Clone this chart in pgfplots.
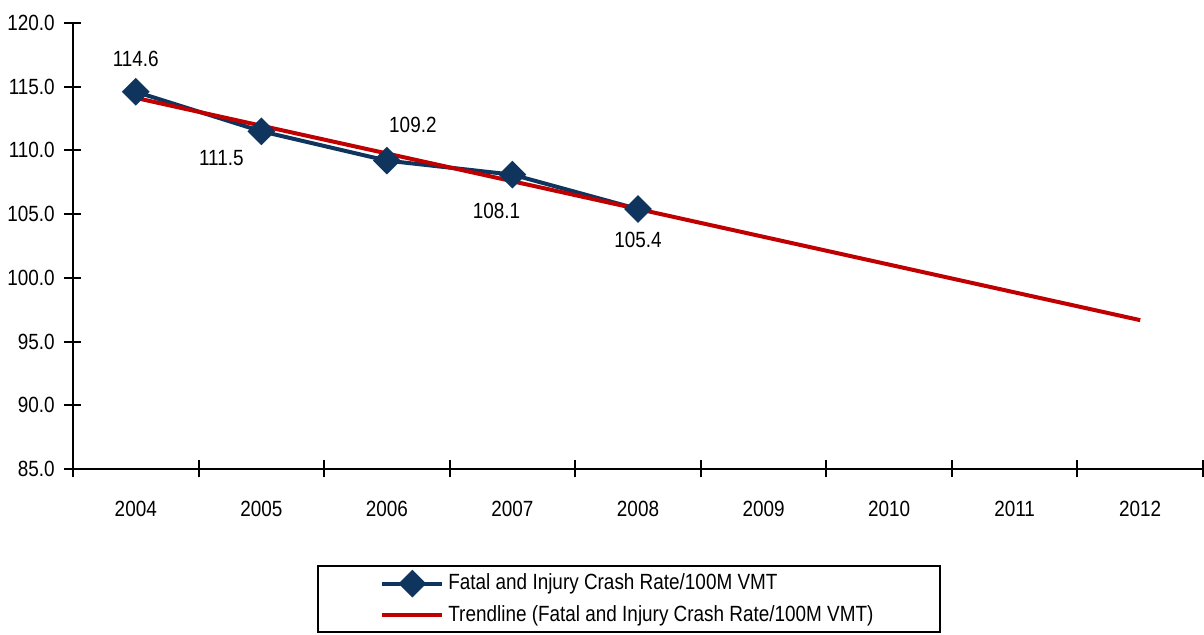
\documentclass[border=0pt]{standalone}
\usepackage{fontspec}
\setmainfont{Liberation Sans}[FakeStretch=0.86]
\usepackage{pgfplots}
\usepackage{pgfplotstable}
\pgfplotsset{compat=1.18}

\definecolor{navy}{HTML}{0F355E}
\definecolor{trendred}{HTML}{C00000}

% crash rate per year, with label offsets (pt)
\pgfplotstableread{
x y dx dy
0 114.6 0 16.5
1 111.5 -20 -13.5
2 109.2 13 18
3 108.1 -8 -18
4 105.4 0 -15.5
}\crashrate

% linear trend, 2004--2012
\pgfplotstableread{
x y
0 114.12
8 96.68
}\trend

\begin{document}
\fontsize{11}{13.2}\selectfont
\begin{tikzpicture}
\begin{axis}[
    scale only axis,
    width=565pt, height=223pt,
    xmin=-0.5, xmax=8.5,
    ymin=85, ymax=120,
    axis lines*=left,
    axis line style={line width=1pt},
    xtick={-0.5,0.5,1.5,2.5,3.5,4.5,5.5,6.5,7.5,8.5},
    x tick label as interval,
    xticklabels={2004,2005,2006,2007,2008,2009,2010,2011,2012},
    xticklabel style={yshift=-8pt},
    ytick={85,90,95,100,105,110,115,120},
    tick align=center,
    major tick length=8.5pt,
    tick style={line width=1pt, black},
    /pgf/number format/assume math mode=true,
    yticklabel style={xshift=-1pt, /pgf/number format/.cd, fixed, fixed zerofill, precision=1},
    legend cell align=left,
    legend style={at={(0.492,0)}, anchor=north, yshift=-48pt,
        draw=black, line width=1pt, inner xsep=31pt, inner ysep=1pt,
        row sep=0pt, nodes={inner ysep=3pt}},
    legend image code/.code={
        \draw[#1, mark repeat=2, mark phase=2]
            plot coordinates {(0pt,0pt) (15pt,0pt) (30pt,0pt)};},
]
\addplot[navy, line width=2pt, mark=square*, mark size=3.9pt,
    mark options={solid, fill=navy, rotate=45},
    visualization depends on={\thisrow{dx} \as \dx},
    visualization depends on={\thisrow{dy} \as \dy},
    nodes near coords={\pgfmathprintnumber[fixed, fixed zerofill, precision=1]{\pgfplotspointmeta}},
    nodes near coords style={text=black, anchor=center, xshift=\dx pt, yshift=\dy pt}]
    table[x=x, y=y] {\crashrate};
\addlegendentry{Fatal and Injury Crash Rate/100M VMT}
\addplot[trendred, line width=2pt] table[x=x, y=y] {\trend};
\addlegendentry{Trendline (Fatal and Injury Crash Rate/100M VMT)}
\end{axis}
\pgfresetboundingbox
\useasboundingbox ([shift={(-36.5pt,-83pt)}]current axis.south west)
    rectangle ([shift={(0.5pt,11.5pt)}]current axis.north east);
\end{tikzpicture}
\end{document}
